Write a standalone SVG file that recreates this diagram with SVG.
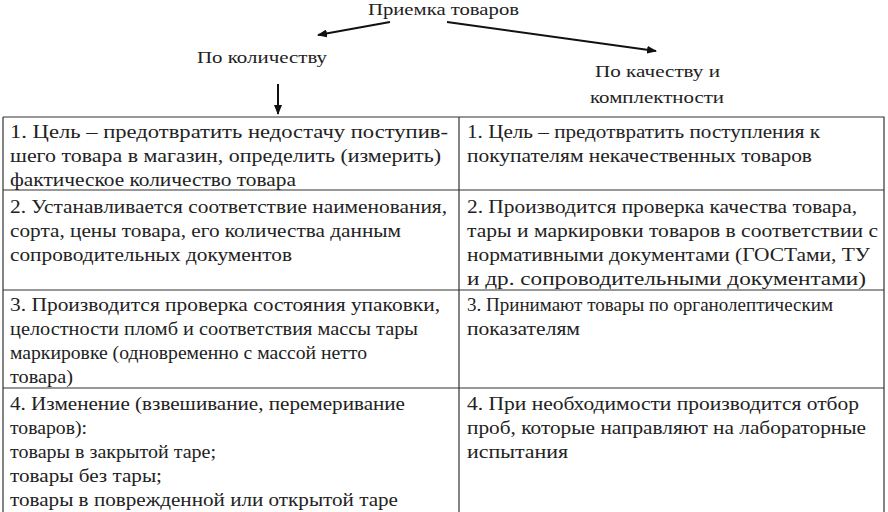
<svg xmlns="http://www.w3.org/2000/svg" width="888" height="512" viewBox="0 0 888 512" font-family="'Liberation Serif', 'DejaVu Serif', serif">
<defs><marker id="ah" markerWidth="10" markerHeight="8" refX="9" refY="4" orient="auto" markerUnits="userSpaceOnUse"><path d="M0,0 L10,4 L0,8 z" fill="#111"/></marker></defs>
<style>text{font-family:'Liberation Serif',serif;font-size:18px;fill:#222}.h{font-size:17px}line.c{stroke:#111;stroke-width:2;marker-end:url(#ah)}.g{stroke:#333;stroke-width:1.2;fill:none}</style>
<rect width="888" height="512" fill="#fff"/>
<g id="root"><text class="h" x="368" y="15" textLength="151" lengthAdjust="spacingAndGlyphs">Приемка товаров</text></g>
<g id="qty"><text class="h" x="197" y="63" textLength="130" lengthAdjust="spacingAndGlyphs">По количеству</text></g>
<g id="qual"><text class="h" x="595" y="77" textLength="125" lengthAdjust="spacingAndGlyphs">По качеству и</text><text class="h" x="590" y="103" textLength="134" lengthAdjust="spacingAndGlyphs">комплектности</text></g>
<g id="connectors">
<line class="c" x1="390" y1="22" x2="318" y2="35"/>
<line class="c" x1="447" y1="22" x2="656" y2="51"/>
<line class="c" x1="278" y1="84" x2="278" y2="114"/>
</g>
<g id="table" lengthAdjust="spacingAndGlyphs">
<path class="g" d="M3,117 H884 V512 M3,117 V512 M459,117 V512 M3,190 H884 M3,290 H884 M3,388 H884"/>
<text x="10" y="138" textLength="438" lengthAdjust="spacingAndGlyphs">1. Цель – предотвратить недостачу поступив-</text>
<text x="10" y="162" textLength="431" lengthAdjust="spacingAndGlyphs">шего товара в магазин, определить (измерить)</text>
<text x="10" y="186" textLength="286" lengthAdjust="spacingAndGlyphs">фактическое количество товара</text>
<text x="467" y="138" textLength="353" lengthAdjust="spacingAndGlyphs">1. Цель – предотвратить поступления к</text>
<text x="467" y="162" textLength="345" lengthAdjust="spacingAndGlyphs">покупателям некачественных товаров</text>
<text x="10" y="213" textLength="437" lengthAdjust="spacingAndGlyphs">2. Устанавливается соответствие наименования,</text>
<text x="10" y="237" textLength="391" lengthAdjust="spacingAndGlyphs">сорта, цены товара, его количества данным</text>
<text x="10" y="261" textLength="282" lengthAdjust="spacingAndGlyphs">сопроводительных документов</text>
<text x="467" y="213" textLength="390" lengthAdjust="spacingAndGlyphs">2. Производится проверка качества товара,</text>
<text x="467" y="237" textLength="411" lengthAdjust="spacingAndGlyphs">тары и маркировки товаров в соответствии с</text>
<text x="467" y="261" textLength="403" lengthAdjust="spacingAndGlyphs">нормативными документами (ГОСТами, ТУ</text>
<text x="467" y="285" textLength="399" lengthAdjust="spacingAndGlyphs">и др. сопроводительными документами)</text>
<text x="10" y="311" textLength="430" lengthAdjust="spacingAndGlyphs">3. Производится проверка состояния упаковки,</text>
<text x="10" y="335" textLength="408" lengthAdjust="spacingAndGlyphs">целостности пломб и соответствия массы тары</text>
<text x="10" y="359" textLength="357" lengthAdjust="spacingAndGlyphs">маркировке (одновременно с массой нетто</text>
<text x="10" y="383" textLength="63" lengthAdjust="spacingAndGlyphs">товара)</text>
<text x="467" y="311" textLength="366" lengthAdjust="spacingAndGlyphs">3. Принимают товары по органолептическим</text>
<text x="467" y="335" textLength="113" lengthAdjust="spacingAndGlyphs">показателям</text>
<text x="10" y="410" textLength="395" lengthAdjust="spacingAndGlyphs">4. Изменение (взвешивание, перемеривание</text>
<text x="10" y="434" textLength="77" lengthAdjust="spacingAndGlyphs">товаров):</text>
<text x="10" y="458" textLength="206" lengthAdjust="spacingAndGlyphs">товары в закрытой таре;</text>
<text x="10" y="482" textLength="152" lengthAdjust="spacingAndGlyphs">товары без тары;</text>
<text x="10" y="506" textLength="388" lengthAdjust="spacingAndGlyphs">товары в поврежденной или открытой таре</text>
<text x="467" y="410" textLength="392" lengthAdjust="spacingAndGlyphs">4. При необходимости производится отбор</text>
<text x="467" y="434" textLength="399" lengthAdjust="spacingAndGlyphs">проб, которые направляют на лабораторные</text>
<text x="467" y="458" textLength="101" lengthAdjust="spacingAndGlyphs">испытания</text>
</g>
</svg>
